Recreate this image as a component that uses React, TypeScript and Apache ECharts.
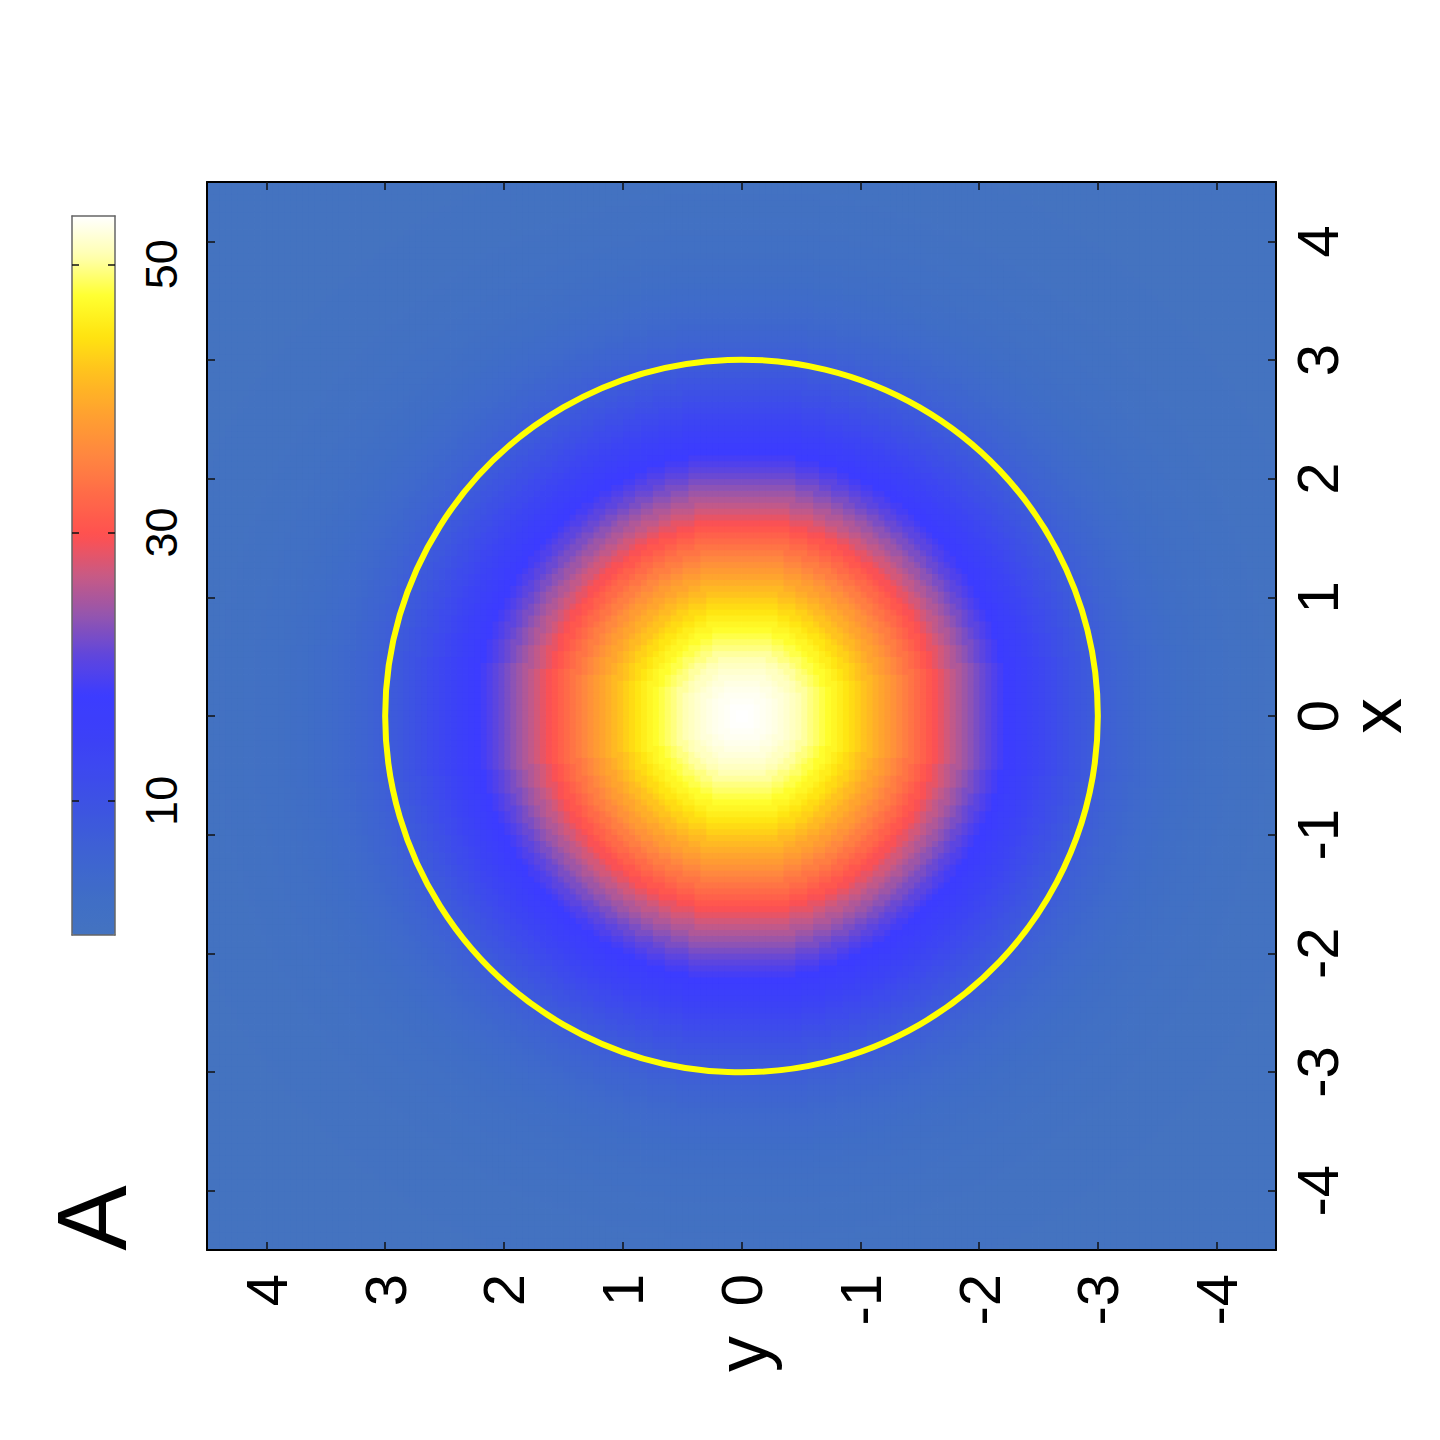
import React, { useEffect, useRef } from 'react';
import * as echarts from 'echarts';

// Radial profile of the field (value vs distance from centre, step 0.05)
const radiusStep = 0.05;
const radialProfile = [
  53.6, 53.6, 53.5, 53.3, 53.1, 52.9, 52.6, 52.2, 51.8, 51.3,
  50.8, 50.2, 49.5, 48.9, 48.2, 47.4, 46.6, 45.8, 44.9, 44.0,
  43.1, 42.1, 41.2, 40.1, 39.1, 38.1, 37.1, 36.0, 34.9, 33.8,
  32.8, 31.7, 30.6, 29.5, 28.5, 27.4, 26.4, 25.4, 24.4, 23.4,
  22.4, 21.4, 20.5, 19.5, 18.6, 17.7, 16.9, 16.0, 15.2, 14.4,
  13.7, 13.0, 12.3, 11.6, 10.9, 10.3, 9.7, 9.1, 8.5, 8.0,
  7.5, 7.0, 6.6, 6.1, 5.7, 5.3, 5.0, 4.6, 4.3, 4.0,
  3.7, 3.4, 3.2, 2.9, 2.7, 2.5, 2.3, 2.1, 1.9, 1.7,
  1.6, 1.5, 1.4, 1.2, 1.1, 1.0, 1.0, 0.9, 0.8, 0.7,
  0.6, 0.55, 0.5, 0.45, 0.4, 0.4, 0.4, 0.35, 0.3, 0.25,
  0.2, 0.2, 0.2, 0.2, 0.2, 0.15, 0.1, 0.1, 0.1, 0.1,
  0.1, 0.1, 0.1, 0.1, 0.1, 0.1, 0.05, 0, 0, 0,
  0, 0, 0, 0, 0, 0, 0, 0, 0, 0,
];

const axisMin = -4.5;
const axisMax = 4.5;
const cellStep = 0.05;
const tickValues = [-4, -3, -2, -1, 0, 1, 2, 3, 4];
const colorTicks = [10, 30, 50];
const colorMin = 0;
const colorMax = 53.6;
// circle: [centre y, centre x, radius]
const circles = [[0, 0, 3]];

const palette = [
  '#4473c0', '#3f6dc7', '#3e63d2', '#3d56df', '#3d4aed', '#3c40f8', '#3c3cff',
  '#6046dc', '#9455ae', '#c85a84', '#ff5050', '#ff6a48', '#ff8640', '#ffa030',
  '#ffbe20', '#ffe410', '#ffff30', '#ffffb0', '#ffffff',
];

const FONT = '"Liberation Sans", Arial, Helvetica, sans-serif';

function buildCells() {
  const n = Math.round((axisMax - axisMin) / cellStep);
  const cells: number[][] = [];
  for (let i = 0; i < n; i++) {
    const h = axisMin + (i + 0.5) * cellStep;
    for (let j = 0; j < n; j++) {
      const v = axisMin + (j + 0.5) * cellStep;
      const r = Math.sqrt(h * h + v * v);
      const idx = Math.min(radialProfile.length - 1, Math.round(r / radiusStep));
      cells.push([h, v, radialProfile[idx]]);
    }
  }
  return cells;
}

export default function App() {
  const ref = useRef<HTMLDivElement>(null);
  useEffect(() => {
    if (!ref.current) return;
    const chart = echarts.init(ref.current, undefined, { renderer: 'svg' });
    const cells = buildCells();
    const mainLine = { show: true, onZero: false, lineStyle: { color: '#000', width: 2 } };
    const mainTick = { show: true, inside: true, length: 8, customValues: tickValues, lineStyle: { color: '#111', width: 1.5 } };
    const cbLine = { show: true, onZero: false, lineStyle: { color: '#666', width: 1.5 } };
    const cbTick = { show: true, inside: true, length: 7, customValues: colorTicks, lineStyle: { color: '#111', width: 1.5 } };
    const noLabel = { show: false };
    const noSplit = { show: false };
    const option: any = {
      animation: false,
      backgroundColor: '#ffffff',
      grid: [
        { left: 207, top: 182, width: 1069, height: 1068, containLabel: false },
        { left: 72, top: 216, width: 43, height: 719, containLabel: false },
      ],
      xAxis: [
        {
          gridIndex: 0, type: 'value', min: axisMin, max: axisMax, inverse: true, position: 'bottom', z: 5,
          axisLine: mainLine, axisTick: mainTick, splitLine: noSplit,
          axisLabel: { show: true, customValues: tickValues, rotate: 90, margin: 24, fontSize: 58, color: '#000', fontFamily: FONT },
          name: 'y', nameLocation: 'middle', nameGap: 86, nameRotate: 90,
          nameTextStyle: { fontSize: 72, color: '#000', fontFamily: FONT },
        },
        {
          gridIndex: 0, type: 'value', min: axisMin, max: axisMax, inverse: true, position: 'top', z: 5,
          axisLine: mainLine, axisTick: mainTick, axisLabel: noLabel, splitLine: noSplit,
        },
        {
          gridIndex: 1, type: 'value', min: 0, max: 1, position: 'bottom', z: 10,
          axisLine: cbLine, axisTick: { show: false }, axisLabel: noLabel, splitLine: noSplit,
        },
        {
          gridIndex: 1, type: 'value', min: 0, max: 1, position: 'top', z: 10,
          axisLine: cbLine, axisTick: { show: false }, axisLabel: noLabel, splitLine: noSplit,
        },
      ],
      yAxis: [
        {
          gridIndex: 0, type: 'value', min: axisMin, max: axisMax, position: 'right', z: 5,
          axisLine: mainLine, axisTick: mainTick, splitLine: noSplit,
          axisLabel: { show: true, customValues: tickValues, rotate: 90, margin: 12, fontSize: 58, color: '#000', fontFamily: FONT },
          name: 'x', nameLocation: 'middle', nameGap: 64, nameRotate: 90, nameMoveOverlap: false,
          nameTextStyle: { fontSize: 72, color: '#000', fontFamily: FONT },
        },
        {
          gridIndex: 0, type: 'value', min: axisMin, max: axisMax, position: 'left', z: 5,
          axisLine: mainLine, axisTick: mainTick, axisLabel: noLabel, splitLine: noSplit,
        },
        {
          gridIndex: 1, type: 'value', min: colorMin, max: colorMax, position: 'right', z: 10,
          axisLine: cbLine, axisTick: cbTick, splitLine: noSplit,
          axisLabel: { show: true, customValues: colorTicks, rotate: 90, margin: 24, fontSize: 45, color: '#000', fontFamily: FONT },
        },
        {
          gridIndex: 1, type: 'value', min: colorMin, max: colorMax, position: 'left', z: 10,
          axisLine: cbLine, axisTick: cbTick, axisLabel: noLabel, splitLine: noSplit,
        },
      ],
      visualMap: {
        type: 'continuous', seriesIndex: 0, dimension: 2, min: colorMin, max: colorMax,
        inRange: { color: palette }, show: true, orient: 'vertical',
        left: 72, top: 216, itemWidth: 43, itemHeight: 719, padding: 0,
        calculable: false, hoverLink: false, text: null, z: 4,
      },
      graphic: [
        {
          type: 'text', x: 92, y: 1218, rotation: Math.PI / 2, z: 20,
          style: { text: 'A', fontSize: 98, fontFamily: FONT, fill: '#000', align: 'center', verticalAlign: 'middle' },
        },
      ],
      series: [
        {
          type: 'custom', xAxisIndex: 0, yAxisIndex: 0, data: cells, encode: { x: 0, y: 1 },
          progressive: 0, clip: true, silent: true, z: 1,
          renderItem: (_p: any, api: any) => {
            const c = api.coord([api.value(0), api.value(1)]);
            const s = api.size([cellStep, cellStep]);
            return {
              type: 'rect',
              shape: { x: c[0] - s[0] / 2 - 0.4, y: c[1] - s[1] / 2 - 0.4, width: s[0] + 0.8, height: s[1] + 0.8 },
              style: { fill: api.visual('color') },
            };
          },
        },
        {
          type: 'custom', xAxisIndex: 0, yAxisIndex: 0, data: circles, encode: { x: 0, y: 1 },
          silent: true, z: 3, clip: true,
          renderItem: (_p: any, api: any) => {
            const c = api.coord([api.value(0), api.value(1)]);
            const s = api.size([api.value(2), api.value(2)]);
            return {
              type: 'circle',
              shape: { cx: c[0], cy: c[1], r: s[0] },
              style: { fill: 'none', stroke: '#ffff00', lineWidth: 6 },
            };
          },
        },
      ],
    };
    chart.setOption(option);
    return () => chart.dispose();
  }, []);
  return (
    <div
      ref={ref}
      style={{ position: 'absolute', left: 0, top: 0, width: 1440, height: 1440, background: '#fff' }}
    />
  );
}
